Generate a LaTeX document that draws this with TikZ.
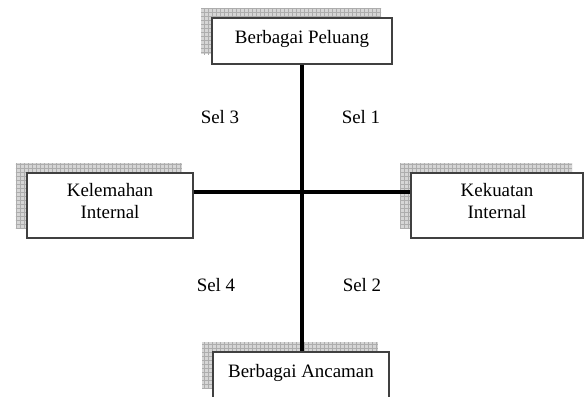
\documentclass[tikz,border=0pt]{standalone}
\usepackage{fontspec}
\setmainfont{Liberation Serif}
\usetikzlibrary{patterns.meta}
\begin{document}
\begin{tikzpicture}[x=1bp,y=-1bp,
        box/.style={draw=black!75, line width=1.2bp, fill=white, align=center,
            text depth=8.5bp, font=\fontsize{19}{22}\selectfont,
            preaction={fill=black!16, transform canvas={shift={(-11bp,10bp)}}},
            preaction={pattern={Hatch[angle=0,distance=4bp,line width=0.5bp]},
                pattern color=black!32, transform canvas={shift={(-11bp,10bp)}}}},
        sel/.style={font=\fontsize{19}{22}\selectfont}]
        \useasboundingbox (0,0) rectangle (587,396);

        \node[box, minimum width=180bp, minimum height=46bp] (peluang) at (302,41) {Berbagai Peluang};
        \node[box, minimum width=176bp, minimum height=46bp] (ancaman) at (301,375) {Berbagai Ancaman};
        \node[box, minimum width=166bp, minimum height=65bp] (kelemahan) at (110,205.5) {Kelemahan\\Internal};
        \node[box, minimum width=172bp, minimum height=65bp] (kekuatan) at (497,205.5) {Kekuatan\\Internal};

        \coordinate (mid) at (302,192);
        \draw[line width=3.2bp] (peluang.south) -- (peluang.south |- ancaman.north);
        \draw[line width=3.2bp] (kelemahan.east |- mid) -- (kekuatan.west |- mid);

        \node[sel] (sel3) at (220,117) {Sel 3};
        \node[sel] (sel1) at (361,117) {Sel 1};
        \node[sel] (sel4) at (216,285) {Sel 4};
        \node[sel] (sel2) at (362,285) {Sel 2};
    \end{tikzpicture}
\end{document}
